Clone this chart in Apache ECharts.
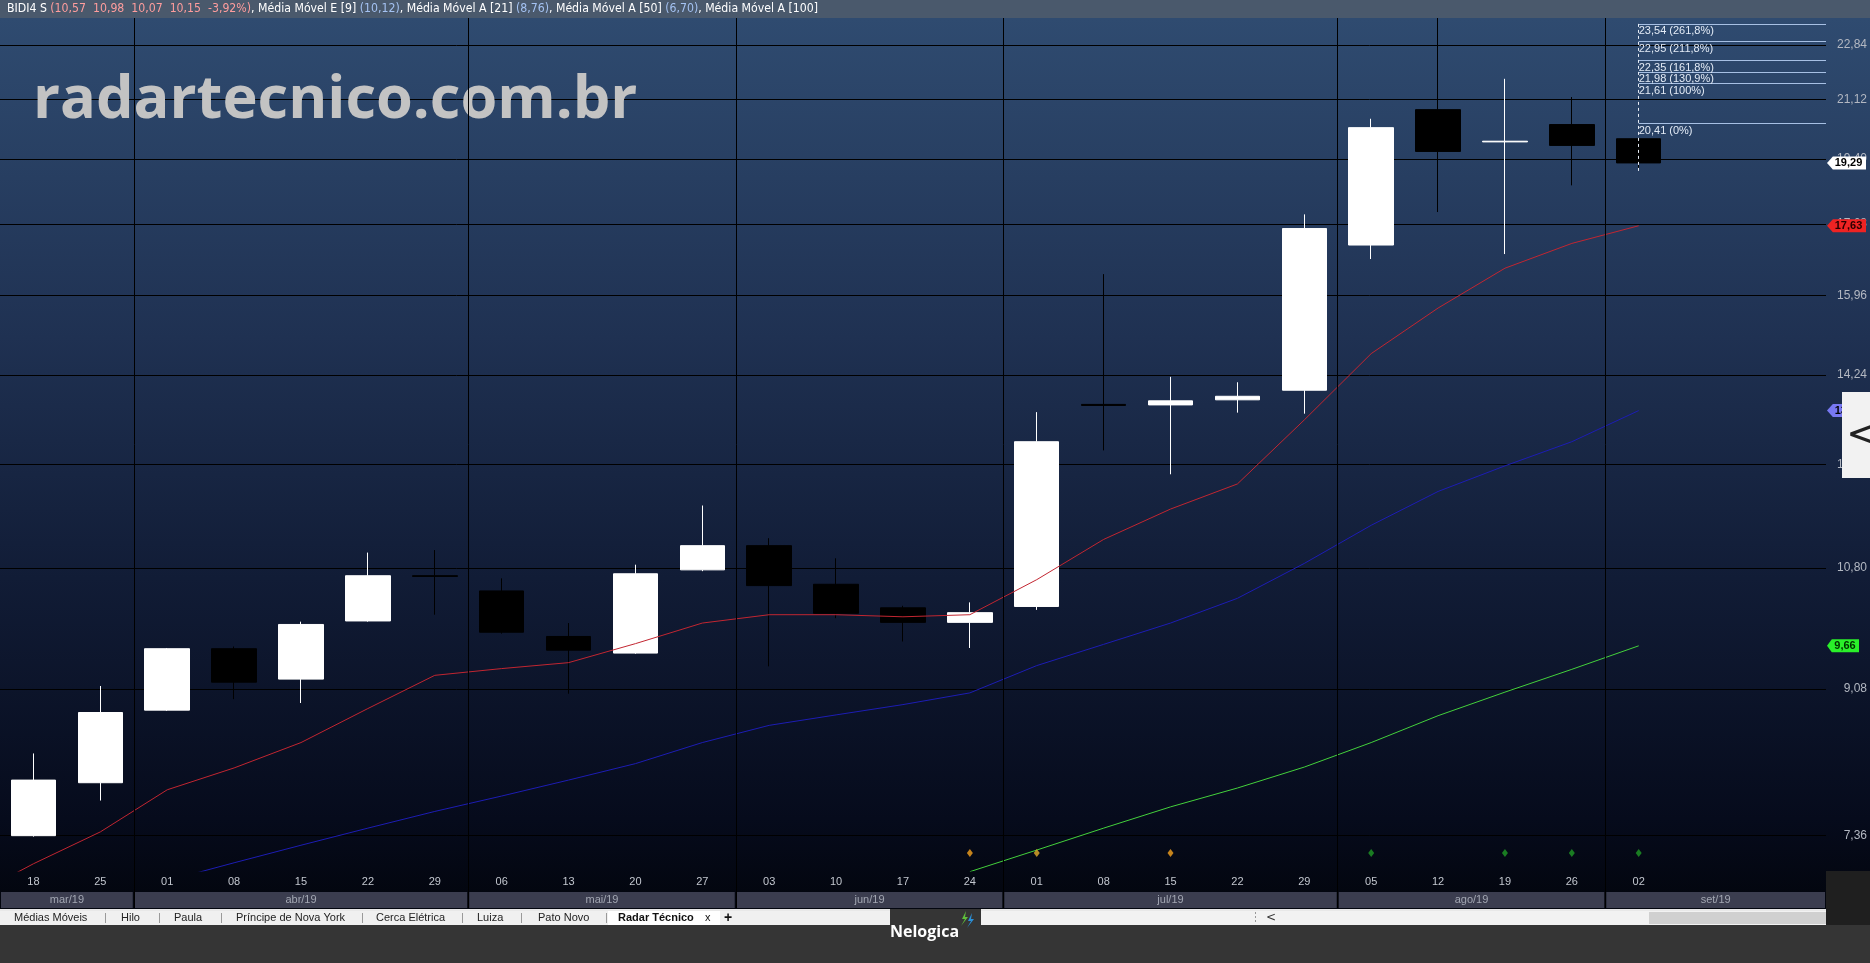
<!DOCTYPE html>
<html>
<head>
<meta charset="utf-8">
<script src="https://cdn.jsdelivr.net/npm/echarts@6/dist/echarts.min.js"></script>
<style>
  html, body { margin: 0; padding: 0; background: #333; }
  #main { width: 1870px; height: 963px; }
</style>
</head>
<body>
<div id="main"></div>
<script>
// weekly candles, BIDI4
const days = ['18', '25', '01', '08', '15', '22', '29', '06', '13', '20', '27', '03', '10', '17', '24', '01', '08', '15', '22', '29', '05', '12', '19', '26', '02'];
const opens  = [7.36, 7.94, 8.81, 9.62, 9.21, 10.01, 10.68, 10.45, 9.79, 9.56, 10.77, 11.15, 10.55, 10.20, 9.99, 10.22, 13.65, 13.64, 13.74, 13.93, 17.15, 20.82, 19.88, 20.38, 19.97];
const closes = [7.97, 8.78, 9.62, 9.17, 9.96, 10.68, 10.67, 9.85, 9.60, 10.71, 11.15, 10.53, 10.12, 9.99, 10.13, 12.94, 13.63, 13.72, 13.81, 17.56, 20.29, 19.61, 19.90, 19.78, 19.29];
const lows   = [7.35, 7.74, 8.80, 8.95, 8.90, 10.00, 10.10, 9.83, 9.02, 9.55, 10.75, 9.38, 10.05, 9.72, 9.63, 10.17, 12.78, 12.35, 13.49, 13.47, 16.81, 17.98, 16.93, 18.68, 19.11];
const highs  = [8.28, 9.12, 9.63, 9.65, 10.00, 11.04, 11.08, 10.64, 9.98, 10.85, 11.81, 11.27, 10.95, 10.23, 10.28, 13.50, 16.45, 14.20, 14.09, 17.92, 20.55, 23.90, 21.76, 21.20, 19.97];

// moving averages
const mme9Lead = 6.72; // week before the first visible candle
const mme9  = [7.07, 7.40, 7.86, 8.11, 8.41, 8.83, 9.26, 9.35, 9.43, 9.69, 9.98, 10.10, 10.10, 10.07, 10.10, 10.62, 11.25, 11.75, 12.18, 13.35, 14.68, 15.67, 16.59, 17.19, 17.63];
const mma21 = [null, null, 6.90, 7.08, 7.26, 7.44, 7.62, 7.79, 7.97, 8.16, 8.41, 8.62, 8.75, 8.88, 9.03, 9.39, 9.68, 9.98, 10.34, 10.87, 11.48, 12.05, 12.50, 12.94, 13.53];
const mma50 = [null, null, null, null, null, null, null, null, null, null, null, null, null, null, 6.99, 7.21, 7.44, 7.67, 7.88, 8.12, 8.41, 8.74, 9.04, 9.34, 9.66];

// hilo markers at the bottom
const signalIdx = [14, 15, 17, 20, 22, 23, 24];
const signalColor = ['#f5a21e', '#e3ad2a', '#f5a21e', '#1f9a25', '#1f9a25', '#1f9a25', '#1f9a25'];
const signalLevel = 7.18;

// fibonacci projection
const fibValues = [23.54, 22.95, 22.35, 21.98, 21.61, 20.41];
const fibPct = ['261,8%', '211,8%', '161,8%', '130,9%', '100%', '0%'];
const fibAnchor = 24;
const fibLow = 19.07;

// axes
const yTicks = [7.36, 9.08, 10.80, 12.52, 14.24, 15.96, 17.68, 19.40, 21.12, 22.84];
const months = ['mar/19', 'abr/19', 'mai/19', 'jun/19', 'jul/19', 'ago/19', 'set/19'];
const monthStart = [-0.5, 1.5, 6.5, 10.5, 14.5, 19.5, 23.5];
const xMin = -0.5, xMax = 26.8;
const yMin = 6.997, yMax = 23.74;

const tabs = ['Médias Móveis', 'Hilo', 'Paula', 'Príncipe de Nova York', 'Cerca Elétrica', 'Luiza', 'Pato Novo'];
const tabX = [14, 121, 174, 236, 376, 477, 538];
const sepX = [105, 159, 221, 362, 462, 521, 606];

const fmt = v => v.toFixed(2).replace('.', ',');

const chart = echarts.init(document.getElementById('main'));

const candles = days.map((d, i) => [i, opens[i], closes[i], lows[i], highs[i]]);
const monthEnd = monthStart.slice(1).concat([xMax]);

function tag(value, bg, fg, w) {
  return {
    coord: [xMax, value],
    value: value,
    symbol: 'path://M0,6 L6,0 L40,0 L40,12 L6,12 Z',
    symbolSize: [w, 13],
    symbolOffset: [w / 2 + 1, 0],
    itemStyle: { color: bg },
    label: {
      show: true, position: 'inside', offset: [2, 0],
      formatter: fmt(value), color: fg, fontWeight: 'bold', fontSize: 11,
      fontFamily: 'Liberation Sans'
    }
  };
}

const markLines = [];
monthStart.slice(1).forEach(x => {
  markLines.push({ xAxis: x, lineStyle: { color: '#000', width: 1, type: 'solid' }, label: { show: false } });
});
fibValues.forEach((v, i) => {
  markLines.push([
    {
      coord: [fibAnchor, v],
      lineStyle: { color: '#a7c0e4', width: 1, type: 'solid' },
      label: {
        show: true, position: 'insideStartBottom', distance: [0, 2],
        formatter: fmt(v) + ' (' + fibPct[i] + ')',
        color: '#e3ebf6', fontSize: 11, fontFamily: 'Liberation Sans'
      }
    },
    { coord: [xMax, v] }
  ]);
});
markLines.push([
  { coord: [fibAnchor, fibValues[0]], lineStyle: { color: '#e6ecf5', width: 1, type: [3, 3] }, label: { show: false } },
  { coord: [fibAnchor, fibLow] }
]);

const headline = [
  ['BIDI4 S ', 'w'],
  ['(10,57  10,98  10,07  10,15  -3,92%)', 'r'],
  [', Média Móvel E [9] ', 'w'], ['(10,12)', 'b'],
  [', Média Móvel A [21] ', 'w'], ['(8,76)', 'b'],
  [', Média Móvel A [50] ', 'w'], ['(6,70)', 'b'],
  [', Média Móvel A [100]', 'w']
];
const hlFont = { fontSize: 12.2, fontFamily: '"Liberation Sans Narrow", "DejaVu Sans Condensed", sans-serif' };

const graphics = [
  // top bar
  { type: 'rect', z: 100, shape: { x: 0, y: 0, width: 1870, height: 18 }, style: { fill: '#4a596c' } },
  {
    type: 'text', z: 101, x: 7, y: 9,
    style: {
      text: headline.map(h => '{' + h[1] + '|' + h[0] + '}').join(''),
      verticalAlign: 'middle',
      rich: {
        w: Object.assign({ fill: '#ffffff' }, hlFont),
        r: Object.assign({ fill: '#ff9d9d' }, hlFont),
        b: Object.assign({ fill: '#a4c2f2' }, hlFont)
      }
    }
  },
  // watermark
  {
    type: 'text', z: 1, x: 33, y: 101,
    style: {
      text: 'radartecnico.com.br', fill: '#c3c3c3', verticalAlign: 'middle',
      font: 'bold 59.5px "Open Sans", sans-serif'
    }
  },
  // right side panel below price axis
  { type: 'rect', z: 100, shape: { x: 1826, y: 871, width: 44, height: 54 }, style: { fill: '#1f1f1f' } },
  // collapse handle on the price axis
  { type: 'rect', z: 100, shape: { x: 1842, y: 392, width: 28, height: 86 }, style: { fill: '#f2f2f2' } },
  { type: 'text', z: 101, x: 1846, y: 437, style: { text: '<', fill: '#222', font: '40px "DejaVu Sans", sans-serif', verticalAlign: 'middle' } },
  // bottom area
  { type: 'rect', z: 100, shape: { x: 0, y: 925, width: 1870, height: 38 }, style: { fill: '#353535' } },
  { type: 'rect', z: 100, shape: { x: 0, y: 909, width: 1826, height: 2 }, style: { fill: '#e8e8e8' } },
  { type: 'rect', z: 100, shape: { x: 0, y: 911, width: 890, height: 14 }, style: { fill: '#f0f0f0' } },
  { type: 'rect', z: 100, shape: { x: 608, y: 911, width: 112, height: 14 }, style: { fill: '#ffffff' } },
  { type: 'rect', z: 100, shape: { x: 890, y: 909, width: 91, height: 16 }, style: { fill: '#353535' } },
  { type: 'rect', z: 100, shape: { x: 981, y: 911, width: 845, height: 14 }, style: { fill: '#f2f2f2' } },
  { type: 'rect', z: 100, shape: { x: 1649, y: 912, width: 177, height: 12 }, style: { fill: '#d0d0d0' } },
  { type: 'line', z: 101, shape: { x1: 1255.5, y1: 912, x2: 1255.5, y2: 924 }, style: { stroke: '#999', lineDash: [2, 2] } },
  { type: 'text', z: 101, x: 1266, y: 918, style: { text: '<', fill: '#333', font: '12px "DejaVu Sans", sans-serif', verticalAlign: 'middle' } },
  { type: 'text', z: 101, x: 890, y: 932, style: { text: 'Nelogica', fill: '#ffffff', font: 'bold 16px "Liberation Sans Narrow", "Open Sans", sans-serif', verticalAlign: 'middle' } },
  { type: 'polygon', z: 101, shape: { points: [[966, 911], [962, 919], [965, 919], [961, 926], [968, 917], [965, 917]] }, style: { fill: '#5fbf3a' } },
  { type: 'polygon', z: 101, shape: { points: [[972, 913], [968, 921], [971, 921], [967, 928], [974, 919], [971, 919]] }, style: { fill: '#2a8fd8' } },
  { type: 'text', z: 101, x: 618, y: 918, style: { text: 'Radar Técnico', fill: '#111', font: 'bold 11px "Liberation Sans", sans-serif', verticalAlign: 'middle' } },
  { type: 'text', z: 101, x: 705, y: 918, style: { text: 'x', fill: '#111', font: '11px "Liberation Sans", sans-serif', verticalAlign: 'middle' } },
  { type: 'text', z: 101, x: 724, y: 918, style: { text: '+', fill: '#111', font: 'bold 14px "Liberation Sans", sans-serif', verticalAlign: 'middle' } }
];
tabs.forEach((t, i) => {
  graphics.push({ type: 'text', z: 101, x: tabX[i], y: 918, style: { text: t, fill: '#222', font: '11px "Liberation Sans", sans-serif', verticalAlign: 'middle' } });
});
sepX.forEach(x => {
  graphics.push({ type: 'rect', z: 101, shape: { x: x, y: 913, width: 1, height: 10 }, style: { fill: '#9a9a9a' } });
});

const option = {
  animation: false,
  backgroundColor: {
    type: 'linear', x: 0, y: 0, x2: 0, y2: 963, global: true,
    colorStops: [
      { offset: 0.019, color: '#2f4b70' },
      { offset: 0.35, color: '#1f3152' },
      { offset: 0.6, color: '#111c36' },
      { offset: 0.85, color: '#060b1c' },
      { offset: 0.93, color: '#03060f' },
      { offset: 1, color: '#03060f' }
    ]
  },
  grid: [
    { left: 0, right: 44, top: 18, bottom: 92 },
    { left: 0, right: 44, top: 871, height: 37 }
  ],
  xAxis: [
    {
      type: 'value', min: xMin, max: xMax, gridIndex: 0,
      splitLine: { show: false }, axisLine: { show: false },
      axisTick: { show: false, customValues: days.map((d, i) => i) },
      axisLabel: {
        customValues: days.map((d, i) => i),
        formatter: v => days[Math.round(v)],
        color: '#c3c7cf', fontSize: 11, margin: 5, fontFamily: 'Liberation Sans'
      }
    },
    { type: 'value', min: xMin, max: xMax, gridIndex: 1, show: false }
  ],
  yAxis: [
    {
      type: 'log', min: yMin, max: yMax, position: 'right', gridIndex: 0,
      axisLine: { show: false },
      axisTick: { show: false, customValues: yTicks },
      splitLine: { show: true, lineStyle: { color: '#000', width: 1 } },
      axisLabel: {
        customValues: yTicks, formatter: v => fmt(v),
        color: '#b3b8c2', fontSize: 12, align: 'right', margin: 41, fontFamily: 'Liberation Sans'
      }
    },
    { type: 'value', min: 0, max: 1, gridIndex: 1, show: false }
  ],
  graphic: graphics,
  series: [
    {
      name: 'BIDI4', type: 'candlestick', xAxisIndex: 0, yAxisIndex: 0,
      data: candles, encode: { x: 0, y: [1, 2, 3, 4] },
      barWidth: 45,
      itemStyle: { color: '#ffffff', color0: '#000000', borderColor: '#ffffff', borderColor0: '#000000', borderWidth: 1 },
      markLine: { silent: true, symbol: ['none', 'none'], animation: false, data: markLines },
      markPoint: { silent: true, data: [tag(closes[closes.length - 1], '#ffffff', '#000', 39)] }
    },
    {
      name: 'MME 9', type: 'line', showSymbol: false, z: 3,
      data: [[-1, mme9Lead]].concat(mme9.map((v, i) => [i, v])),
      lineStyle: { color: '#c22631', width: 1 },
      markPoint: { silent: true, data: [tag(mme9[mme9.length - 1], '#ee2323', '#2a0000', 39)] }
    },
    {
      name: 'MMA 21', type: 'line', showSymbol: false, z: 3,
      data: mma21.map((v, i) => [i, v]).filter(p => p[1] !== null),
      lineStyle: { color: '#1d1db4', width: 1 },
      markPoint: { silent: true, data: [tag(mma21[mma21.length - 1], '#7878f2', '#000', 39)] }
    },
    {
      name: 'MMA 50', type: 'line', showSymbol: false, z: 3,
      data: mma50.map((v, i) => [i, v]).filter(p => p[1] !== null),
      lineStyle: { color: '#44d13c', width: 1 },
      markPoint: { silent: true, data: [tag(mma50[mma50.length - 1], '#2af02a', '#003000', 32)] }
    },
    {
      name: 'Hilo', type: 'scatter', symbol: 'diamond', symbolSize: [6, 8], z: 4,
      data: signalIdx.map((x, i) => ({ value: [x, signalLevel], itemStyle: { color: signalColor[i] } }))
    },
    {
      name: 'meses', type: 'custom', xAxisIndex: 1, yAxisIndex: 1,
      data: months.map((m, i) => [monthStart[i], monthEnd[i], m]),
      renderItem: (params, api) => {
        const a = api.coord([api.value(0), 0]);
        const b = api.coord([api.value(1), 0]);
        const cs = params.coordSys;
        const x0 = Math.max(a[0], cs.x) + 1;
        const x1 = b[0] - 1;
        return {
          type: 'group',
          children: [
            { type: 'rect', shape: { x: x0, y: cs.y + 21, width: x1 - x0, height: 16 }, style: { fill: '#3b3d4f' } },
            {
              type: 'text', x: (x0 + x1) / 2, y: cs.y + 29,
              style: { text: months[params.dataIndex], fill: '#a3a7b3', font: '11px "Liberation Sans", sans-serif', align: 'center', verticalAlign: 'middle' }
            }
          ]
        };
      },
      markLine: {
        silent: true, symbol: ['none', 'none'], label: { show: false },
        lineStyle: { color: '#000', width: 1, type: 'solid' },
        data: monthStart.slice(1).map(x => ({ xAxis: x }))
      }
    }
  ]
};

chart.setOption(option);
</script>
</body>
</html>
